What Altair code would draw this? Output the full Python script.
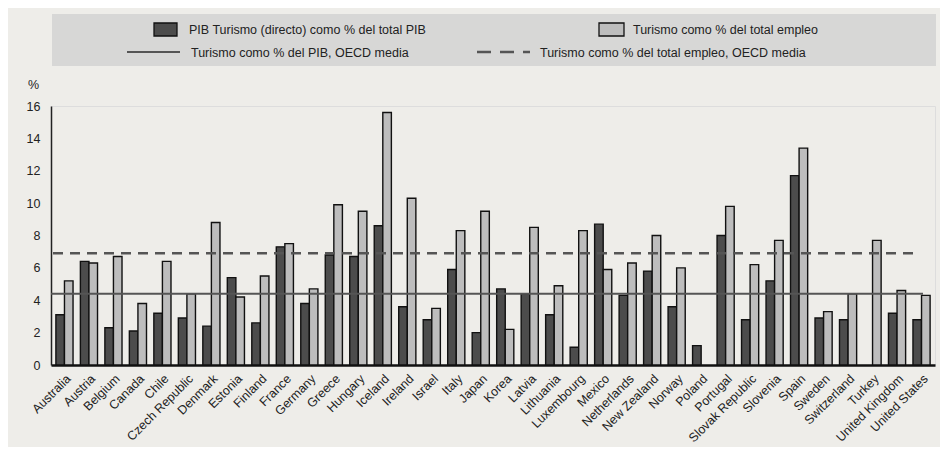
import altair as alt
import pandas as pd

countries = ["Australia", "Austria", "Belgium", "Canada", "Chile", "Czech Republic",
             "Denmark", "Estonia", "Finland", "France", "Germany", "Greece", "Hungary",
             "Iceland", "Ireland", "Israel", "Italy", "Japan", "Korea", "Latvia",
             "Lithuania", "Luxembourg", "Mexico", "Netherlands", "New Zealand", "Norway",
             "Poland", "Portugal", "Slovak Republic", "Slovenia", "Spain", "Sweden",
             "Switzerland", "Turkey", "United Kingdom", "United States"]

pib_turismo = [3.1, 6.4, 2.3, 2.1, 3.2, 2.9, 2.4, 5.4, 2.6, 7.3, 3.8, 6.8, 6.7,
               8.6, 3.6, 2.8, 5.9, 2.0, 4.7, 4.4, 3.1, 1.1, 8.7, 4.3, 5.8, 3.6,
               1.2, 8.0, 2.8, 5.2, 11.7, 2.9, 2.8, None, 3.2, 2.8]
empleo_turismo = [5.2, 6.3, 6.7, 3.8, 6.4, 4.4, 8.8, 4.2, 5.5, 7.5, 4.7, 9.9, 9.5,
                  15.6, 10.3, 3.5, 8.3, 9.5, 2.2, 8.5, 4.9, 8.3, 5.9, 6.3, 8.0, 6.0,
                  None, 9.8, 6.2, 7.7, 13.4, 3.3, 4.4, 7.7, 4.6, 4.3]

series_names = ["PIB Turismo (directo) como % del total PIB",
                "Turismo como % del total empleo"]
mean_names = ["Turismo como % del PIB, OECD media",
              "Turismo  como % del total empleo, OECD media"]
mean_values = [4.4, 6.9]
y_ticks = [0, 2, 4, 6, 8, 10, 12, 14, 16]

FONT = "Liberation Sans"
DARK = "#4c4c4c"
LIGHT = "#bdbdbd"
LINE = "#555555"

rows = []
for c, a, b in zip(countries, pib_turismo, empleo_turismo):
    rows.append({"country": c, "series": series_names[0], "value": a})
    rows.append({"country": c, "series": series_names[1], "value": b})
df = pd.DataFrame(rows)

y_scale = alt.Scale(domain=[0, 16], nice=False, zero=True)
y_axis = alt.Axis(values=y_ticks, tickCount=9, title="%", titleAngle=0,
                  titleX=-18, titleY=-22, titleAlign="center",
                  titleBaseline="middle", titleFontSize=12.5,
                  titleFontWeight="normal", titleColor="#222222",
                  labelFontSize=12.5, labelColor="#222222", labelPadding=11,
                  labelOverlap=False, labelBound=False, labelFlush=False,
                  ticks=False, grid=False, domainColor="#222222",
                  domainWidth=1.5)

x_enc = alt.X("country:N", sort=countries,
              scale=alt.Scale(paddingInner=0.3, paddingOuter=0.2),
              axis=alt.Axis(title=None, labelAngle=-45, labelFontSize=12.5,
                            labelColor="#222222", labelPadding=7,
                            ticks=False, domainColor="#111111",
                            domainWidth=2.5, labelOverlap=False))

bars = alt.Chart(df).mark_bar(stroke="#111111", strokeWidth=1.4).encode(
    x=x_enc,
    xOffset=alt.XOffset("series:N", sort=series_names, scale=alt.Scale(paddingInner=0, paddingOuter=0)),
    y=alt.Y("value:Q", scale=y_scale, axis=y_axis),
    color=alt.Color("series:N", sort=series_names,
                    scale=alt.Scale(domain=series_names, range=[DARK, LIGHT]),
                    legend=None),
)

mean_df = pd.DataFrame({"name": mean_names, "value": mean_values})
solid = alt.Chart(mean_df.iloc[[0]]).mark_rule(color=LINE, strokeWidth=2.2).encode(
    y=alt.Y("value:Q", scale=y_scale, axis=y_axis), x=alt.value(0), x2=alt.value(872))
dashed = alt.Chart(mean_df.iloc[[1]]).mark_rule(color=LINE, strokeWidth=2.6,
                                                 strokeDash=[10, 7]).encode(
    y=alt.Y("value:Q", scale=y_scale, axis=y_axis), x=alt.value(2), x2=alt.value(867))

# Legend (drawn manually above the plot area)
box = alt.Chart(pd.DataFrame({"k": [0]})).mark_rect(fill="#d7d7d6").encode(
    x=alt.value(1), x2=alt.value(885), y=alt.value(-92), y2=alt.value(-40))
sw1 = alt.Chart(pd.DataFrame({"k": [0]})).mark_rect(fill=DARK, stroke="#111111", strokeWidth=1.3).encode(
    x=alt.value(103), x2=alt.value(126), y=alt.value(-83), y2=alt.value(-70))
sw2 = alt.Chart(pd.DataFrame({"k": [0]})).mark_rect(fill=LIGHT, stroke="#111111", strokeWidth=1.3).encode(
    x=alt.value(548), x2=alt.value(573), y=alt.value(-83), y2=alt.value(-70))
ln1 = alt.Chart(pd.DataFrame({"k": [0]})).mark_rule(color=LINE, strokeWidth=2.2).encode(
    x=alt.value(76), x2=alt.value(129), y=alt.value(-54))
ln2 = alt.Chart(pd.DataFrame({"k": [0]})).mark_rule(color=LINE, strokeWidth=2.6, strokeDash=[14, 9]).encode(
    x=alt.value(426), x2=alt.value(479), y=alt.value(-54))

def legend_text(label, x, y):
    return alt.Chart(pd.DataFrame({"t": [label]})).mark_text(
        align="left", baseline="middle", fontSize=12.5, color="#222222", font=FONT
    ).encode(text="t:N", x=alt.value(x), y=alt.value(y))

t1 = legend_text(series_names[0], 138, -76)
t2 = legend_text(series_names[1], 582, -76)
t3 = legend_text(mean_names[0], 140, -53)
t4 = legend_text(mean_names[1], 489, -53)

chart = alt.layer(box, sw1, sw2, ln1, ln2, t1, t2, t3, t4, bars, solid, dashed).properties(
    width=884, height=259,
    autosize=alt.AutoSizeParams(type="none"),
    padding={"left": 43, "top": 98, "right": 5, "bottom": 82},
    background="#eeede9",
).configure_view(
    stroke="#333333", strokeWidth=1.5, fill="#ecebe8"
).configure(font=FONT)

chart.save("out.html", embed_options={"renderer": "svg", "actions": False})
